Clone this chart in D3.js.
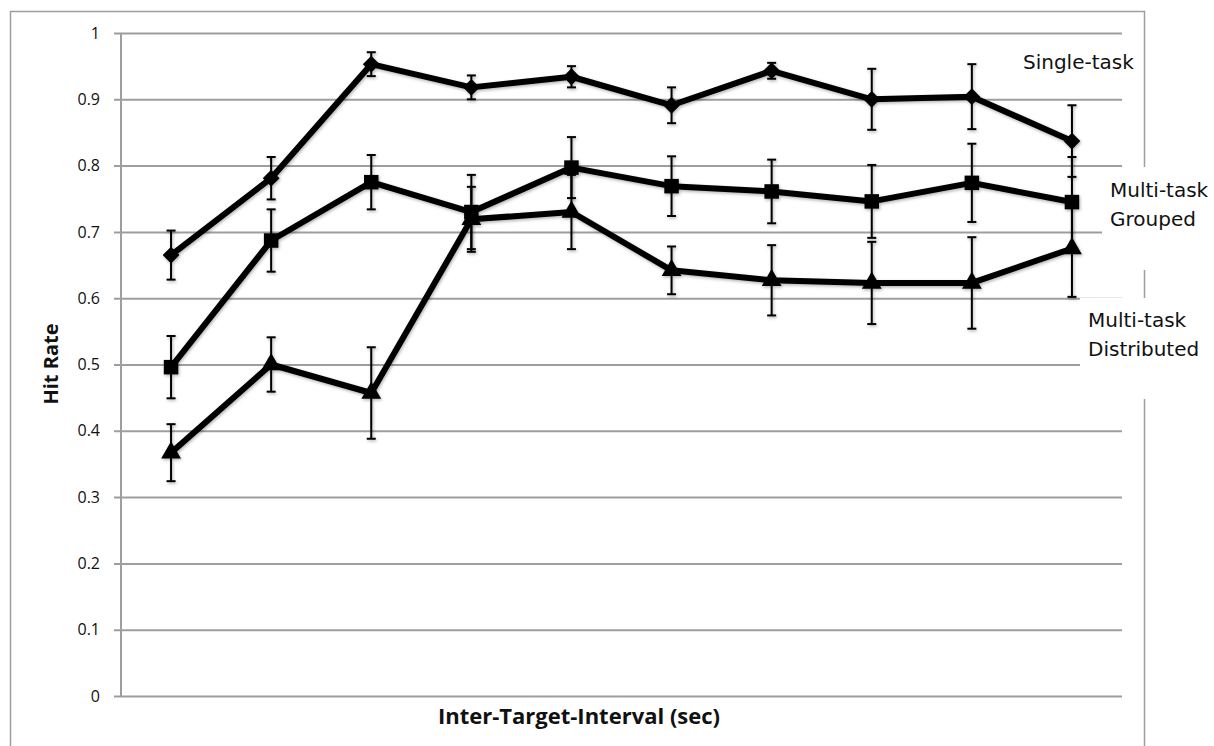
<!DOCTYPE html>
<html>
<head>
<meta charset="utf-8">
<script src="https://cdn.jsdelivr.net/npm/d3@7"></script>
<style>
  body { margin: 0; background: #fff; }
  svg { display: block; }
</style>
</head>
<body>
<div id="chart"></div>
<script>
// inter-target intervals (the x axis has no tick labels in the original)
const intervals = ["1", "2", "3", "4", "5", "6", "7", "8", "9", "10"];
const yTicks = [0, 0.1, 0.2, 0.3, 0.4, 0.5, 0.6, 0.7, 0.8, 0.9, 1];

const singleTask = [0.665, 0.781, 0.953, 0.918, 0.934, 0.891, 0.943, 0.900, 0.904, 0.837];
const singleErr = [0.037, 0.032, 0.018, 0.018, 0.016, 0.027, 0.012, 0.046, 0.049, 0.054];

const multiGrouped = [0.496, 0.687, 0.775, 0.730, 0.797, 0.769, 0.761, 0.746, 0.774, 0.745];
const groupedErr = [0.047, 0.047, 0.041, 0.056, 0.046, 0.045, 0.048, 0.055, 0.059, 0.068];

const multiDistributed = [0.367, 0.500, 0.457, 0.719, 0.730, 0.642, 0.627, 0.623, 0.623, 0.675];
const distributedErr = [0.043, 0.041, 0.069, 0.049, 0.056, 0.036, 0.053, 0.062, 0.069, 0.073];

const series = [
    {name: ["Single-task"], values: singleTask, err: singleErr, shape: d3.symbolDiamond2, size: 180},
    {name: ["Multi-task", "Grouped"], values: multiGrouped, err: groupedErr, shape: d3.symbolSquare, size: 210},
    {name: ["Multi-task", "Distributed"], values: multiDistributed, err: distributedErr, shape: d3.symbolTriangle, size: 170}
];

function drawChart() {
    const width = 1214, height = 746;
    const plot = {left: 121, right: 1122, top: 33, bottom: 696};
    const grey = "#9e9e9e";

    const svg = d3.select("#chart")
        .append("svg")
        .attr("width", width)
        .attr("height", height);

    // outer chart frame
    svg.append("rect")
        .attr("x", 10.5).attr("y", 11.5)
        .attr("width", 1134).attr("height", 760)
        .attr("fill", "none")
        .attr("stroke", grey)
        .attr("stroke-width", 1.5);

    const x = d3.scaleBand()
        .domain(intervals)
        .range([plot.left, plot.right]);

    const y = d3.scaleLinear()
        .domain([0, 1])
        .range([plot.bottom, plot.top]);

    // gridlines + y axis
    const yAxis = svg.append("g")
        .attr("transform", `translate(${plot.left},0)`)
        .call(d3.axisLeft(y)
            .tickValues(yTicks)
            .tickFormat(d3.format("~g"))
            .tickSize(8)
            .tickPadding(13));
    yAxis.select(".domain").remove();
    yAxis.selectAll(".tick line")
        .attr("x2", plot.right - plot.left)
        .attr("x1", -7)
        .attr("stroke", grey)
        .attr("stroke-width", 2);
    yAxis.selectAll(".tick text")
        .attr("font-family", "'Open Sans', sans-serif")
        .attr("font-size", 16)
        .attr("fill", "#111");

    svg.append("line")
        .attr("x1", plot.left).attr("x2", plot.left)
        .attr("y1", plot.top).attr("y2", plot.bottom)
        .attr("stroke", grey)
        .attr("stroke-width", 2);

    const cx = i => x(intervals[i]) + x.bandwidth() / 2;

    const line = d3.line()
        .x((d, i) => cx(i))
        .y(d => y(d));

    const defs = svg.append("defs");
    defs.append("filter")
        .attr("id", "shadow")
        .attr("x", "-20%").attr("y", "-20%")
        .attr("width", "140%").attr("height", "140%")
        .append("feDropShadow")
        .attr("dx", 1).attr("dy", 1.5)
        .attr("stdDeviation", 1.5)
        .attr("flood-color", "#000")
        .attr("flood-opacity", 0.3);

    series.forEach(s => {
        const g = svg.append("g").attr("filter", "url(#shadow)");

        g.append("path")
            .datum(s.values)
            .attr("fill", "none")
            .attr("stroke", "#000")
            .attr("stroke-width", 6)
            .attr("stroke-linejoin", "round")
            .attr("d", line);

        const bars = g.selectAll(".err")
            .data(s.values)
            .enter().append("g")
            .attr("class", "err");
        bars.append("line")
            .attr("x1", (d, i) => cx(i)).attr("x2", (d, i) => cx(i))
            .attr("y1", (d, i) => y(d + s.err[i]))
            .attr("y2", (d, i) => y(d - s.err[i]));
        bars.append("line")
            .attr("x1", (d, i) => cx(i) - 4.5).attr("x2", (d, i) => cx(i) + 4.5)
            .attr("y1", (d, i) => y(d + s.err[i]))
            .attr("y2", (d, i) => y(d + s.err[i]));
        bars.append("line")
            .attr("x1", (d, i) => cx(i) - 4.5).attr("x2", (d, i) => cx(i) + 4.5)
            .attr("y1", (d, i) => y(d - s.err[i]))
            .attr("y2", (d, i) => y(d - s.err[i]));
        bars.selectAll("line")
            .attr("stroke", "#000")
            .attr("stroke-width", 2);

        g.selectAll(".marker")
            .data(s.values)
            .enter().append("path")
            .attr("class", "marker")
            .attr("d", d3.symbol().type(s.shape).size(s.size))
            .attr("transform", (d, i) => `translate(${cx(i)},${y(d)})`)
            .attr("fill", "#000");
    });

    // series labels on the right (white boxes hide grid/frame behind them)
    svg.append("rect")
        .attr("x", 1102).attr("y", 167).attr("width", 112).attr("height", 103)
        .attr("fill", "#fff");
    svg.append("rect")
        .attr("x", 1080).attr("y", 298).attr("width", 134).attr("height", 101)
        .attr("fill", "#fff");

    const labelPos = [[1023, 69], [1110, 197], [1088, 327]];
    series.forEach((s, k) => {
        const t = svg.append("text")
            .attr("x", labelPos[k][0])
            .attr("y", labelPos[k][1])
            .attr("font-family", "'DejaVu Sans', sans-serif")
            .attr("font-size", 20)
            .attr("fill", "#111");
        s.name.forEach((n, j) => {
            t.append("tspan")
                .attr("x", labelPos[k][0])
                .attr("dy", j === 0 ? 0 : 29)
                .text(n);
        });
    });

    // axis titles
    svg.append("text")
        .attr("x", 579).attr("y", 724)
        .attr("text-anchor", "middle")
        .attr("font-family", "'Open Sans', sans-serif")
        .attr("font-weight", "bold")
        .attr("font-size", 22)
        .attr("fill", "#111")
        .text("Inter-Target-Interval (sec)");

    svg.append("text")
        .attr("transform", "translate(58,364) rotate(-90)")
        .attr("text-anchor", "middle")
        .attr("font-family", "'Open Sans', sans-serif")
        .attr("font-weight", "bold")
        .attr("font-size", 20)
        .attr("fill", "#111")
        .text("Hit Rate");
}

drawChart();
</script>
</body>
</html>
